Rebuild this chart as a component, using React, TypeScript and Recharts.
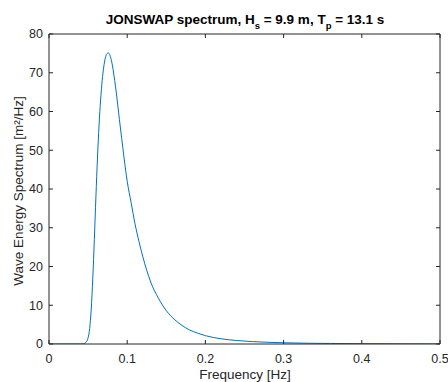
import { LineChart, Line, XAxis, YAxis, Label } from "recharts";

// frequency [Hz] and spectral density [m^2/Hz]
const freqs = [
  0, 0.04, 0.044, 0.047, 0.05, 0.052, 0.054, 0.056, 0.058, 0.06, 0.062, 0.064,
  0.066, 0.068, 0.07, 0.072, 0.074, 0.076, 0.078, 0.08, 0.082, 0.084, 0.086,
  0.088, 0.09, 0.093, 0.096, 0.1, 0.105, 0.11, 0.115, 0.12, 0.125, 0.13, 0.14,
  0.15, 0.16, 0.17, 0.18, 0.19, 0.2, 0.22, 0.24, 0.26, 0.28, 0.3, 0.33, 0.36,
  0.4, 0.45, 0.5,
];
const energy = [
  0, 0, 0.05, 0.4, 1.6, 4, 9, 17, 27, 38, 48, 56.5, 63, 68, 71.5, 73.8, 74.9,
  75.1, 74.5, 73, 70.8, 68, 65, 61.5, 58, 53, 48, 42, 36.5, 31, 26.5, 22.5, 19,
  16, 11.8, 8.6, 6.4, 4.8, 3.6, 2.8, 2.15, 1.35, 0.9, 0.62, 0.44, 0.32, 0.2,
  0.14, 0.09, 0.05, 0.03,
];
const xTicks = [0, 0.1, 0.2, 0.3, 0.4, 0.5];
const yTicks = [0, 10, 20, 30, 40, 50, 60, 70, 80];

const FONT = '"Liberation Sans", Arial, Helvetica, sans-serif';
const INK = "#262626";
const BLUE = "#0072BD";

const data = freqs.map((f, i) => ({ f, v: energy[i] }));

const tickStyle = { fill: INK, fontSize: 12.5, fontFamily: FONT };

export default function App() {
  return (
    <div style={{ position: "absolute", left: 0, top: 0, background: "#fff" }}>
      <LineChart
        width={448}
        height={382}
        data={data}
        margin={{ top: 33, right: 7, bottom: 0, left: 0 }}
      >
        <XAxis
          dataKey="f"
          type="number"
          domain={[0, 0.5]}
          ticks={xTicks}
          height={38}
          tickSize={-4}
          tickMargin={14}
          stroke={INK}
          tick={tickStyle}
          tickFormatter={(v) => String(v)}
          allowDataOverflow
        >
          <Label
            content={() => (
              <g>
                <text
                  x={245}
                  y={379}
                  textAnchor="middle"
                  fill={INK}
                  fontSize={13.5}
                  fontFamily={FONT}
                >
                  Frequency [Hz]
                </text>
                <text
                  x={245}
                  y={24}
                  textAnchor="middle"
                  fill="#000"
                  fontSize={13.5}
                  fontWeight="bold"
                  fontFamily={FONT}
                >
                  <tspan>JONSWAP spectrum, H</tspan>
                  <tspan fontSize={9.5} dy={5}>s</tspan>
                  <tspan dy={-5}> = 9.9 m, T</tspan>
                  <tspan fontSize={9.5} dy={5}>p</tspan>
                  <tspan dy={-5}> = 13.1 s</tspan>
                </text>
              </g>
            )}
          />
        </XAxis>
        <XAxis
          xAxisId="t"
          orientation="top"
          dataKey="f"
          type="number"
          domain={[0, 0.5]}
          ticks={xTicks}
          height={1}
          tickSize={-4}
          stroke={INK}
          tickFormatter={() => ""}
          allowDataOverflow
        />
        <YAxis
          dataKey="v"
          type="number"
          domain={[0, 80]}
          ticks={yTicks}
          width={49}
          tickSize={-4}
          tickMargin={10}
          stroke={INK}
          tick={tickStyle}
          allowDataOverflow
        >
          <Label
            content={() => (
              <text
                x={0}
                y={0}
                transform="translate(23,191) rotate(-90)"
                textAnchor="middle"
                fill={INK}
                fontSize={13.5}
                fontFamily={FONT}
              >
                Wave Energy Spectrum [m²/Hz]
              </text>
            )}
          />
        </YAxis>
        <YAxis
          yAxisId="r"
          orientation="right"
          dataKey="v"
          type="number"
          domain={[0, 80]}
          ticks={yTicks}
          width={1}
          tickSize={-4}
          stroke={INK}
          tickFormatter={() => ""}
          allowDataOverflow
        />
        <Line
          type="monotone"
          dataKey="v"
          stroke={BLUE}
          strokeWidth={1}
          dot={false}
          isAnimationActive={false}
        />
        <Line
          xAxisId="t"
          yAxisId="r"
          dataKey="v"
          stroke="none"
          dot={false}
          legendType="none"
          isAnimationActive={false}
        />
      </LineChart>
    </div>
  );
}
